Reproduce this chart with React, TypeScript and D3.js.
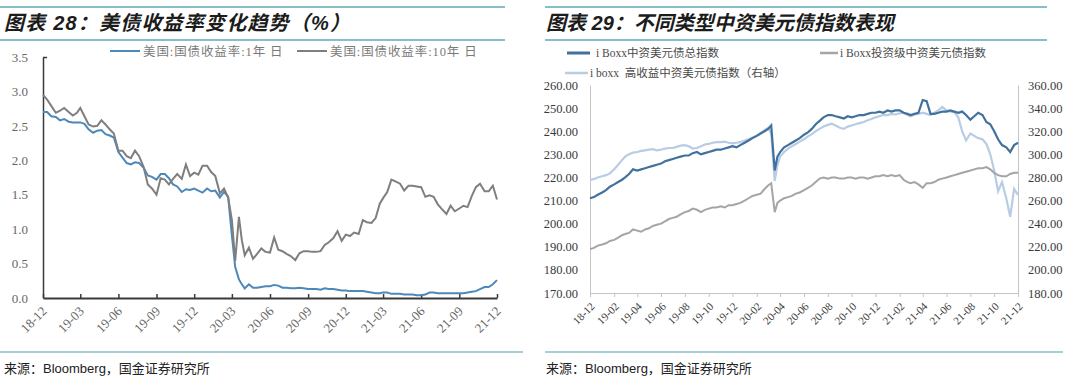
import React, { useEffect, useRef } from "react";
import * as d3 from "d3";

// sampling: three readings a month, four in March 2020 to catch the crash
const MONTHS = [
  "2018-12",
  "2019-01", "2019-02", "2019-03", "2019-04", "2019-05", "2019-06",
  "2019-07", "2019-08", "2019-09", "2019-10", "2019-11", "2019-12",
  "2020-01", "2020-02", "2020-03", "2020-04", "2020-05", "2020-06",
  "2020-07", "2020-08", "2020-09", "2020-10", "2020-11", "2020-12",
  "2021-01", "2021-02", "2021-03", "2021-04", "2021-05", "2021-06",
  "2021-07", "2021-08", "2021-09", "2021-10", "2021-11", "2021-12",
];
const SAMPLE_DAYS = ["01", "11", "21"];
const MARCH_2020_DAYS = ["01", "09", "18", "25"];
const LAST_MONTH_DAYS = ["01"];

// 图表 28
const US_1Y = [
  2.70, 2.70, 2.64,
  2.63, 2.58, 2.60, 2.56, 2.55, 2.55, 2.55, 2.53, 2.45,
  2.40, 2.43, 2.44, 2.38, 2.36, 2.33, 2.12, 2.04, 1.96,
  1.94, 1.97, 1.96, 1.89, 1.78, 1.76, 1.72, 1.80, 1.80,
  1.74, 1.65, 1.62, 1.54, 1.58, 1.57, 1.59, 1.56, 1.53,
  1.59, 1.55, 1.56, 1.46, 1.54, 1.47, 0.91, 0.45, 0.27, 0.20,
  0.14, 0.20, 0.15, 0.15, 0.16, 0.17, 0.17, 0.19, 0.18,
  0.15, 0.15, 0.14, 0.14, 0.15, 0.14, 0.13, 0.13, 0.13,
  0.12, 0.14, 0.13, 0.13, 0.12, 0.11, 0.11, 0.10, 0.10,
  0.10, 0.10, 0.09, 0.08, 0.07, 0.07, 0.08, 0.08, 0.06,
  0.06, 0.06, 0.05, 0.05, 0.05, 0.04, 0.04, 0.05, 0.08,
  0.08, 0.07, 0.07, 0.07, 0.07, 0.07, 0.07, 0.07, 0.08,
  0.09, 0.10, 0.13, 0.16, 0.16, 0.20, 0.26,
];
const US_10Y = [
  2.95, 2.88, 2.79,
  2.69, 2.72, 2.76, 2.70, 2.65, 2.69, 2.76, 2.64, 2.52,
  2.49, 2.50, 2.58, 2.52, 2.45, 2.39, 2.14, 2.14, 2.06,
  2.03, 2.14, 2.06, 1.90, 1.65, 1.59, 1.50, 1.74, 1.72,
  1.65, 1.73, 1.80, 1.73, 1.94, 1.77, 1.82, 1.79, 1.92,
  1.92, 1.83, 1.77, 1.52, 1.59, 1.46, 1.13, 0.54, 1.18, 0.84,
  0.62, 0.73, 0.57, 0.64, 0.72, 0.67, 0.66, 0.88, 0.70,
  0.68, 0.64, 0.61, 0.55, 0.65, 0.68, 0.68, 0.67, 0.67,
  0.68, 0.77, 0.81, 0.87, 0.97, 0.83, 0.92, 0.90, 0.95,
  0.93, 1.13, 1.10, 1.09, 1.16, 1.37, 1.45, 1.54, 1.72,
  1.69, 1.66, 1.56, 1.63, 1.63, 1.62, 1.61, 1.47, 1.49,
  1.47, 1.36, 1.29, 1.22, 1.34, 1.26, 1.30, 1.34, 1.32,
  1.48, 1.61, 1.66, 1.55, 1.55, 1.63, 1.43,
];

// 图表 29
const IBOXX_TOTAL = [
  211, 211.5, 212.5,
  213.5, 214.5, 216, 217, 218, 219, 220, 221.5, 223.5,
  223, 223.5, 224, 224.5, 225, 225.5, 226, 227, 227.5,
  228, 228.5, 229, 229.5, 229.5, 230.5, 231, 230, 230.5,
  231, 231.5, 232, 232, 232.5, 233, 233.5, 233, 234,
  235, 236, 237, 238, 239, 240, 241, 242.5, 223, 229,
  231, 233, 234, 235, 236, 237, 238.5, 239.5, 241,
  243, 244.5, 246, 247, 247, 246.5, 246, 245.5, 246.5,
  246, 246.5, 247, 247, 247.5, 248, 248, 248.5, 248,
  249, 248.5, 249, 249, 248, 247.5, 247, 247.5, 248,
  253.5, 253, 247.5, 247.5, 248, 248.5, 248.5, 249, 248.5,
  248, 248.5, 247, 245, 246.5, 248, 247, 244, 243,
  240, 236.5, 234, 233, 231, 234, 235,
];
const IBOXX_IG = [
  189, 189.5, 190.5,
  191, 191.5, 192.5, 193, 194, 195, 195.5, 196, 197.5,
  197, 196.5, 197.5, 198, 199, 199.5, 200, 201, 202,
  202.5, 203, 204, 205, 205.5, 206.5, 206, 205, 206,
  206.5, 207, 207, 207.5, 207, 208, 208, 208.5, 209,
  210, 211, 212, 212.5, 213, 215, 216.5, 217.5, 205, 209,
  210, 211, 211.5, 212, 213, 213.5, 214.5, 215.5, 216.5,
  218, 219.5, 220, 219.5, 220, 220, 219.5, 219.5, 220,
  220, 219.5, 220, 220, 219.5, 220, 220.5, 220.5, 221,
  220.5, 221, 220.5, 221, 219, 218, 217.5, 218, 217,
  215.5, 217.5, 217.5, 218, 219, 219.5, 220, 220.5, 221,
  221.5, 222, 222.5, 223, 223.5, 224, 224, 224.5, 223.5,
  222, 221, 220.5, 220.5, 221.5, 222, 222,
];
const IBOXX_HY = [
  278, 278.5, 280,
  281, 282, 283.5, 287, 291, 295, 298, 300, 301.5,
  302, 303, 303.5, 304, 304.5, 303.5, 304, 305, 305.5,
  305.5, 306.5, 307.5, 308, 307, 305, 305.5, 307, 308.5,
  309, 310, 310.5, 310.5, 311, 310, 309.5, 310, 310.5,
  312, 313, 314.5, 316, 318.5, 321, 323, 318, 277, 291,
  298, 302, 305, 307, 309, 311, 313, 315.5, 317.5,
  320, 322, 324, 325.5, 326.5, 325, 323, 322, 324,
  325, 326, 327, 328, 329.5, 330.5, 332, 333, 334,
  334, 335, 334.5, 335.5, 336, 334, 333, 334.5, 335,
  336, 335, 334, 336, 338, 341, 338, 337, 336.5,
  332, 320, 312, 318, 316, 314, 313, 309, 300,
  286, 268, 276, 262, 246, 270, 265,
];

const LEFT_X_TICKS = ["18-12", "19-03", "19-06", "19-09", "19-12", "20-03", "20-06",
  "20-09", "20-12", "21-03", "21-06", "21-09", "21-12"];
const RIGHT_X_TICKS = ["18-12", "19-02", "19-04", "19-06", "19-08", "19-10", "19-12",
  "20-02", "20-04", "20-06", "20-08", "20-10", "20-12", "21-02", "21-04", "21-06",
  "21-08", "21-10", "21-12"];
const LEFT_Y_TICKS = [0, 0.5, 1, 1.5, 2, 2.5, 3, 3.5];
const RIGHT_Y_TICKS_L = [170, 180, 190, 200, 210, 220, 230, 240, 250, 260];
const RIGHT_Y_TICKS_R = [180, 200, 220, 240, 260, 280, 300, 320, 340, 360];

const SERIF = "'Liberation Serif', 'Times New Roman', serif";
const CJK = "'Liberation Sans', 'Noto Sans CJK SC', sans-serif";
const TEAL = "#86bfc9";

function buildDates() {
  const parse = d3.timeParse("%Y-%m-%d");
  const out = [];
  MONTHS.forEach((m) => {
    const days = m === "2020-03" ? MARCH_2020_DAYS : m === "2021-12" ? LAST_MONTH_DAYS : SAMPLE_DAYS;
    days.forEach((d) => out.push(parse(`${m}-${d}`)));
  });
  return out;
}

export default function App() {
  const ref = useRef(null);

  useEffect(() => {
    const svg = d3.select(ref.current);
    svg.selectAll("*").remove();

    const dates = buildDates();
    const parseTick = d3.timeParse("%y-%m");
    const fmtTick = d3.timeFormat("%y-%m");
    const domainX = [parseTick("18-12"), parseTick("21-12")];

    const rule = (x1, x2, y, w) =>
      svg.append("line").attr("x1", x1).attr("x2", x2).attr("y1", y).attr("y2", y)
        .attr("stroke", TEAL).attr("stroke-width", w);

    // frame rules + titles
    rule(0, 505, 7, 2);
    rule(0, 505, 40, 2);
    rule(0, 523, 352, 1.5);
    rule(545, 1047, 7, 2);
    rule(545, 1047, 40, 2);
    rule(545, 1063, 352, 1.5);

    const title = (x, txt, spacing) =>
      svg.append("text").attr("x", x).attr("y", 30).text(txt)
        .style("font-family", CJK).style("font-size", "20px").style("letter-spacing", spacing)
        .style("font-weight", "bold").style("font-style", "italic").attr("fill", "#1c1c1c");
    title(4, "图表 28：美债收益率变化趋势（%）", "1.2px");
    title(546, "图表 29：不同类型中资美元债指数表现", "0px");

    const source = (x) =>
      svg.append("text").attr("x", x).attr("y", 373).text("来源：Bloomberg，国金证券研究所")
        .style("font-family", CJK).style("font-size", "13px").attr("fill", "#222");
    source(4);
    source(546);

    // ---------- left chart ----------
    const xL = d3.scaleTime().domain(domainX).range([43, 497]);
    const yL = d3.scaleLinear().domain([0, 3.5]).range([298, 57]);

    const gyL = svg.append("g").attr("transform", "translate(43,0)")
      .call(d3.axisLeft(yL).tickValues(LEFT_Y_TICKS).tickSize(0).tickSizeOuter(0)
        .tickPadding(15).tickFormat(d3.format(".1f")));
    gyL.attr("font-family", SERIF).attr("font-size", 13);
    gyL.select(".domain").attr("stroke", "#3a3a3a").attr("stroke-width", 1.5);
    gyL.selectAll("text").attr("fill", "#666");
    svg.append("line").attr("x1", 43).attr("x2", 47).attr("y1", 57.5).attr("y2", 57.5)
      .attr("stroke", "#3a3a3a").attr("stroke-width", 1.5);

    const gxL = svg.append("g").attr("transform", "translate(0,298)")
      .call(d3.axisBottom(xL).tickValues(LEFT_X_TICKS.map(parseTick)).tickSize(-4)
        .tickSizeOuter(0).tickFormat(fmtTick));
    gxL.attr("font-family", SERIF).attr("font-size", 13);
    gxL.select(".domain").attr("stroke", "#3a3a3a").attr("stroke-width", 1.8);
    gxL.selectAll(".tick line").attr("stroke", "#3a3a3a").attr("stroke-width", 1.5);
    gxL.selectAll("text").attr("y", 0).attr("dy", 0)
      .attr("transform", "translate(4,14) rotate(-45)")
      .style("text-anchor", "end").attr("fill", "#666");

    const lineL = (vals) => d3.line()
      .x((d, i) => xL(dates[i]))
      .y((d) => yL(d))(vals);

    svg.append("path").attr("d", lineL(US_1Y)).attr("fill", "none")
      .attr("stroke", "#4d88ba").attr("stroke-width", 2);
    svg.append("path").attr("d", lineL(US_10Y)).attr("fill", "none")
      .attr("stroke", "#7f7f7f").attr("stroke-width", 2);

    const legendL = [
      { x: 110, color: "#4d88ba", label: "美国:国债收益率:1年 日" },
      { x: 297, color: "#7f7f7f", label: "美国:国债收益率:10年 日" },
    ];
    legendL.forEach((d) => {
      svg.append("line").attr("x1", d.x).attr("x2", d.x + 30).attr("y1", 51).attr("y2", 51)
        .attr("stroke", d.color).attr("stroke-width", 2);
      svg.append("text").attr("x", d.x + 33).attr("y", 55.5).text(d.label)
        .style("font-family", SERIF + ", 'Noto Sans CJK SC'").style("font-size", "12.5px")
        .style("letter-spacing", "0.9px").style("white-space", "pre")
        .attr("fill", "#7a7a7a");
    });

    // ---------- right chart ----------
    const xR = d3.scaleTime().domain(domainX).range([590, 1018]);
    const yRL = d3.scaleLinear().domain([170, 260]).range([293, 85]);
    const yRR = d3.scaleLinear().domain([180, 360]).range([293, 85]);

    const gyRL = svg.append("g").attr("transform", "translate(590,0)")
      .call(d3.axisLeft(yRL).tickValues(RIGHT_Y_TICKS_L).tickSize(0).tickSizeOuter(0)
        .tickPadding(12).tickFormat(d3.format(".2f")));
    const gyRR = svg.append("g").attr("transform", "translate(1018,0)")
      .call(d3.axisRight(yRR).tickValues(RIGHT_Y_TICKS_R).tickSize(0).tickSizeOuter(0)
        .tickPadding(10).tickFormat(d3.format(".2f")));
    [gyRL, gyRR].forEach((g) => {
      g.attr("font-family", SERIF).attr("font-size", 12.5);
      g.select(".domain").attr("stroke", "#c4c4c4").attr("stroke-width", 1);
      g.selectAll("text").attr("fill", "#3a3a3a");
    });

    const gxR = svg.append("g").attr("transform", "translate(0,293)")
      .call(d3.axisBottom(xR).tickValues(RIGHT_X_TICKS.map(parseTick)).tickSize(4)
        .tickSizeOuter(0).tickFormat(fmtTick));
    gxR.attr("font-family", SERIF).attr("font-size", 11);
    gxR.select(".domain").attr("stroke", "#c4c4c4");
    gxR.selectAll(".tick line").attr("stroke", "#c4c4c4");
    gxR.selectAll("text").attr("y", 0).attr("dy", 0)
      .attr("transform", "translate(5,14) rotate(-45)")
      .style("text-anchor", "end").attr("fill", "#3a3a3a");

    const lineR = (vals, y) => d3.line()
      .x((d, i) => xR(dates[i]))
      .y((d) => y(d))(vals);

    svg.append("path").attr("d", lineR(IBOXX_HY, yRR)).attr("fill", "none")
      .attr("stroke", "#b8cce4").attr("stroke-width", 2.2);
    svg.append("path").attr("d", lineR(IBOXX_IG, yRL)).attr("fill", "none")
      .attr("stroke", "#a5a5a5").attr("stroke-width", 2);
    svg.append("path").attr("d", lineR(IBOXX_TOTAL, yRL)).attr("fill", "none")
      .attr("stroke", "#41719c").attr("stroke-width", 2.2);

    const legendR = [
      { x1: 567, x2: 590, y: 53, color: "#41719c", w: 3, tx: 596, label: "i Boxx中资美元债总指数" },
      { x1: 820, x2: 838, y: 53, color: "#a5a5a5", w: 2.5, tx: 840, label: "i Boxx投资级中资美元债指数" },
      { x1: 565, x2: 588, y: 73, color: "#b8cce4", w: 2.5, tx: 590, label: "i boxx  高收益中资美元债指数（右轴）" },
    ];
    legendR.forEach((d) => {
      svg.append("line").attr("x1", d.x1).attr("x2", d.x2).attr("y1", d.y).attr("y2", d.y)
        .attr("stroke", d.color).attr("stroke-width", d.w);
      svg.append("text").attr("x", d.tx).attr("y", d.y + 4).text(d.label)
        .style("font-family", SERIF + ", 'Noto Sans CJK SC'").style("font-size", "11.5px")
        .style("white-space", "pre").attr("fill", "#4a4a4a");
    });
  }, []);

  return (
    <svg
      ref={ref}
      width={1080}
      height={386}
      style={{ position: "absolute", left: 0, top: 0, background: "#fff" }}
    />
  );
}
